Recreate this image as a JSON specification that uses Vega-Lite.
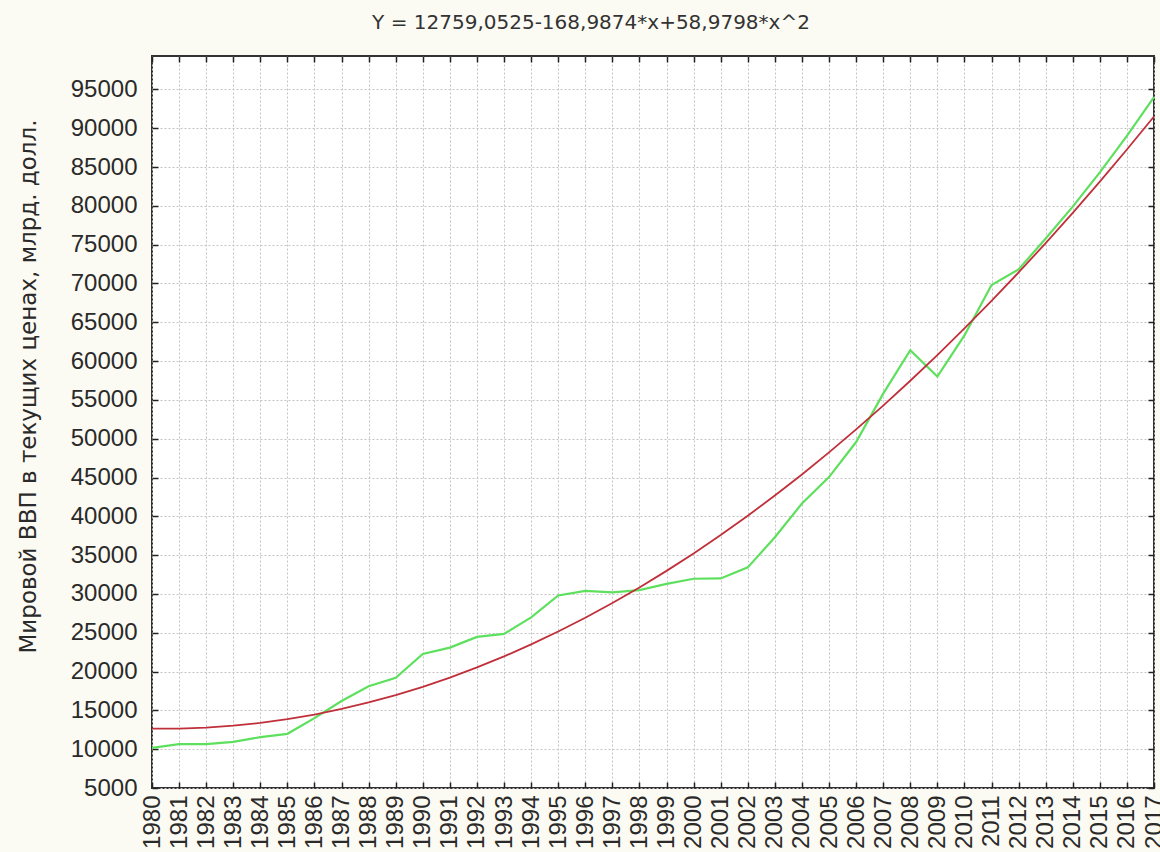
{
  "$schema": "https://vega.github.io/schema/vega-lite/v6.json",
  "width": 1002,
  "height": 732,
  "autosize": {"type": "none"},
  "padding": {"left": 152, "top": 56, "right": 6, "bottom": 64},
  "background": "#fcfbf3",
  "view": {"fill": "white", "stroke": "#333333", "strokeWidth": 2},
  "title": {"text": "Y = 12759,0525-168,9874*x+58,9798*x^2", "font": "DejaVu Sans", "fontSize": 20, "fontWeight": "normal", "color": "#333333", "anchor": "middle", "frame": "group", "dx": -62, "offset": 22},
  "datasets": {
    "actual": [
      {"year": 1980, "gdp": 10170}, {"year": 1981, "gdp": 10640}, {"year": 1982, "gdp": 10640}, {"year": 1983, "gdp": 10950},
      {"year": 1984, "gdp": 11550}, {"year": 1985, "gdp": 11980}, {"year": 1986, "gdp": 14000}, {"year": 1987, "gdp": 16200},
      {"year": 1988, "gdp": 18100}, {"year": 1989, "gdp": 19200}, {"year": 1990, "gdp": 22270}, {"year": 1991, "gdp": 23090},
      {"year": 1992, "gdp": 24470}, {"year": 1993, "gdp": 24860}, {"year": 1994, "gdp": 26970}, {"year": 1995, "gdp": 29800},
      {"year": 1996, "gdp": 30400}, {"year": 1997, "gdp": 30200}, {"year": 1998, "gdp": 30500}, {"year": 1999, "gdp": 31300},
      {"year": 2000, "gdp": 31960}, {"year": 2001, "gdp": 32000}, {"year": 2002, "gdp": 33420}, {"year": 2003, "gdp": 37300},
      {"year": 2004, "gdp": 41650}, {"year": 2005, "gdp": 45050}, {"year": 2006, "gdp": 49570}, {"year": 2007, "gdp": 55800},
      {"year": 2008, "gdp": 61400}, {"year": 2009, "gdp": 58000}, {"year": 2010, "gdp": 63300}, {"year": 2011, "gdp": 69800},
      {"year": 2012, "gdp": 71800}, {"year": 2013, "gdp": 75800}, {"year": 2014, "gdp": 79900}, {"year": 2015, "gdp": 84300},
      {"year": 2016, "gdp": 89000}, {"year": 2017, "gdp": 94000}
    ],
    "fit": [
      {"year": 1980, "gdp": 12649}, {"year": 1981, "gdp": 12657}, {"year": 1982, "gdp": 12783}, {"year": 1983, "gdp": 13027},
      {"year": 1984, "gdp": 13389}, {"year": 1985, "gdp": 13868}, {"year": 1986, "gdp": 14466}, {"year": 1987, "gdp": 15182},
      {"year": 1988, "gdp": 16016}, {"year": 1989, "gdp": 16967}, {"year": 1990, "gdp": 18037}, {"year": 1991, "gdp": 19224},
      {"year": 1992, "gdp": 20530}, {"year": 1993, "gdp": 21953}, {"year": 1994, "gdp": 23495}, {"year": 1995, "gdp": 25154},
      {"year": 1996, "gdp": 26931}, {"year": 1997, "gdp": 28827}, {"year": 1998, "gdp": 30840}, {"year": 1999, "gdp": 32971},
      {"year": 2000, "gdp": 35220}, {"year": 2001, "gdp": 37588}, {"year": 2002, "gdp": 40073}, {"year": 2003, "gdp": 42676},
      {"year": 2004, "gdp": 45397}, {"year": 2005, "gdp": 48236}, {"year": 2006, "gdp": 51193}, {"year": 2007, "gdp": 54268},
      {"year": 2008, "gdp": 57460}, {"year": 2009, "gdp": 60771}, {"year": 2010, "gdp": 64200}, {"year": 2011, "gdp": 67747},
      {"year": 2012, "gdp": 71412}, {"year": 2013, "gdp": 75194}, {"year": 2014, "gdp": 79095}, {"year": 2015, "gdp": 83113},
      {"year": 2016, "gdp": 87250}, {"year": 2017, "gdp": 91504}
    ]
  },
  "config": {
    "axis": {
      "labelFont": "Liberation Sans", "labelFontSize": 24, "labelColor": "#2a2a2a",
      "titleFont": "DejaVu Sans", "titleFontSize": 23, "titleFontWeight": "normal", "titleColor": "#2a2a2a",
      "gridColor": "#c4c4c4", "gridDash": [2, 2], "gridWidth": 1,
      "tickColor": "#222222", "tickSize": -6, "tickWidth": 1.5,
      "domain": false
    }
  },
  "layer": [
    {
      "data": {"name": "actual"},
      "mark": {"type": "line", "color": "#5ee05e", "strokeWidth": 2.2},
      "encoding": {
        "x": {"field": "year", "type": "quantitative", "scale": {"domain": [1980, 2017], "nice": false, "zero": false},
          "axis": {"orient": "bottom", "title": null, "format": "d", "labelAngle": -90, "labelAlign": "right", "labelBaseline": "middle", "labelPadding": 13, "labelOverlap": false, "labelFlush": false, "grid": true,
            "values": [1980,1981,1982,1983,1984,1985,1986,1987,1988,1989,1990,1991,1992,1993,1994,1995,1996,1997,1998,1999,2000,2001,2002,2003,2004,2005,2006,2007,2008,2009,2010,2011,2012,2013,2014,2015,2016,2017]}},
        "y": {"field": "gdp", "type": "quantitative", "scale": {"domain": [5000, 99300], "nice": false, "zero": false},
          "axis": {"orient": "left", "title": "Мировой ВВП в текущих ценах, млрд. долл.", "titlePadding": 30, "titleY": 330, "format": "d", "labelPadding": 21, "labelOverlap": false, "labelFlush": false, "grid": true,
            "values": [5000,10000,15000,20000,25000,30000,35000,40000,45000,50000,55000,60000,65000,70000,75000,80000,85000,90000,95000]}}
      }
    },
    {
      "data": {"name": "fit"},
      "mark": {"type": "line", "color": "#c0303a", "strokeWidth": 1.8},
      "encoding": {
        "x": {"field": "year", "type": "quantitative",
          "axis": {"orient": "top", "title": null, "labels": false, "grid": false,
            "values": [1980,1981,1982,1983,1984,1985,1986,1987,1988,1989,1990,1991,1992,1993,1994,1995,1996,1997,1998,1999,2000,2001,2002,2003,2004,2005,2006,2007,2008,2009,2010,2011,2012,2013,2014,2015,2016,2017]}},
        "y": {"field": "gdp", "type": "quantitative",
          "axis": {"orient": "right", "title": null, "labels": false, "grid": false,
            "values": [5000,10000,15000,20000,25000,30000,35000,40000,45000,50000,55000,60000,65000,70000,75000,80000,85000,90000,95000]}}
      }
    }
  ],
  "resolve": {"axis": {"x": "independent", "y": "independent"}}
}
